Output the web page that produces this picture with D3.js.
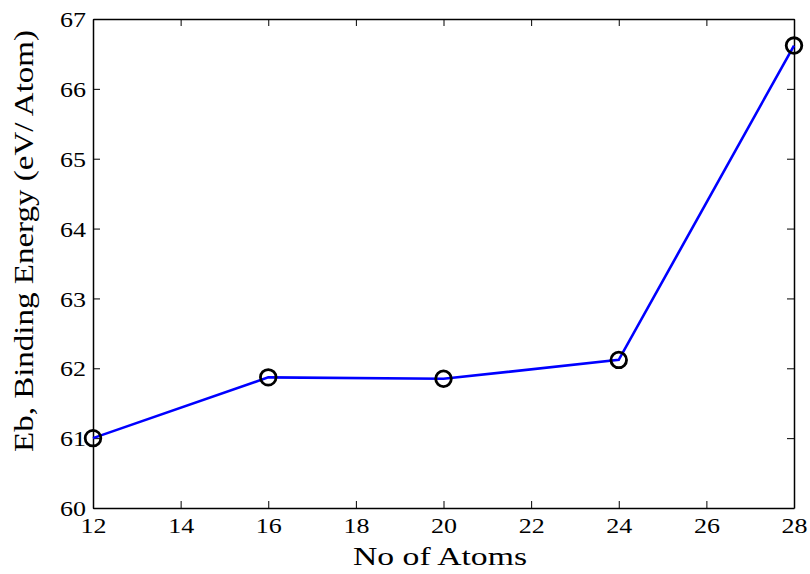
<!DOCTYPE html>
<html><head><meta charset="utf-8">
<script src="https://cdn.jsdelivr.net/npm/d3@7"></script>
<style>body{margin:0;background:#fff}svg{display:block}</style>
</head><body>
<svg id="c" width="810" height="574"></svg>
<script>
const atoms = [12, 16, 20, 24, 28];
const energy = [61.0, 61.87, 61.85, 62.12, 66.62];
const xTicks = [12, 14, 16, 18, 20, 22, 24, 26, 28];
const yTicks = [60, 61, 62, 63, 64, 65, 66, 67];
const xLabel = "No of Atoms";
const yLabel = "Eb, Binding Energy (eV/ Atom)";

const svg = d3.select("#c");
const L = 93, R = 794, T = 19, B = 508;
const x = d3.scaleLinear().domain([12, 28]).range([L, R]);
const y = d3.scaleLinear().domain([60, 67]).range([B, T]);
const font = "'Liberation Serif', 'Times New Roman', serif";
const tl = 7;
const fmt = d3.format("d");

const g = svg.append("g");
const xb = g.append("g").attr("transform", `translate(0,${B})`)
  .call(d3.axisBottom(x).tickValues(xTicks).tickFormat(fmt).tickSizeInner(-tl).tickSizeOuter(0));
const xt = g.append("g").attr("transform", `translate(0,${T})`)
  .call(d3.axisTop(x).tickValues(xTicks).tickSizeInner(-tl).tickSizeOuter(0).tickFormat(""));
const yl = g.append("g").attr("transform", `translate(${L},0)`)
  .call(d3.axisLeft(y).tickValues(yTicks).tickFormat(fmt).tickSizeInner(-tl).tickSizeOuter(0));
const yr = g.append("g").attr("transform", `translate(${R},0)`)
  .call(d3.axisRight(y).tickValues(yTicks).tickSizeInner(-tl).tickSizeOuter(0).tickFormat(""));
[xb, xt, yl, yr].forEach(a => {
  a.attr("font-family", font).attr("font-size", 22);
  a.selectAll("path").attr("stroke", "#000").attr("stroke-width", 1.5);
  a.selectAll("line").attr("stroke", "#000").attr("stroke-width", 1);
  a.selectAll("text").attr("fill", "#000")
    .style("font-family", font).style("font-size", "22px")
    .attr("textLength", 26).attr("lengthAdjust", "spacingAndGlyphs");
});
xb.selectAll("text").attr("y", 25).attr("dy", 0);
yl.selectAll("text").attr("x", -7).attr("dy", "0.35em");

const line = d3.line().x((d, i) => x(atoms[i])).y(d => y(d));
g.append("path").datum(energy).attr("d", line)
  .attr("fill", "none").attr("stroke", "#0000ff").attr("stroke-width", 2.6);
g.selectAll("circle.m").data(energy).enter().append("circle")
  .attr("cx", (d, i) => x(atoms[i])).attr("cy", d => y(d)).attr("r", 7.8)
  .attr("fill", "none").attr("stroke", "#000").attr("stroke-width", 2.8);

svg.append("text").attr("x", 440).attr("y", 565).attr("text-anchor", "middle")
  .style("font-family", font).style("font-size", "26px")
  .attr("textLength", 174).attr("lengthAdjust", "spacingAndGlyphs").text(xLabel);
svg.append("text").attr("transform", `translate(33,241) rotate(-90)`)
  .attr("text-anchor", "middle")
  .style("font-family", font).style("font-size", "27px")
  .attr("textLength", 422).attr("lengthAdjust", "spacingAndGlyphs").text(yLabel);
</script>
</body></html>
